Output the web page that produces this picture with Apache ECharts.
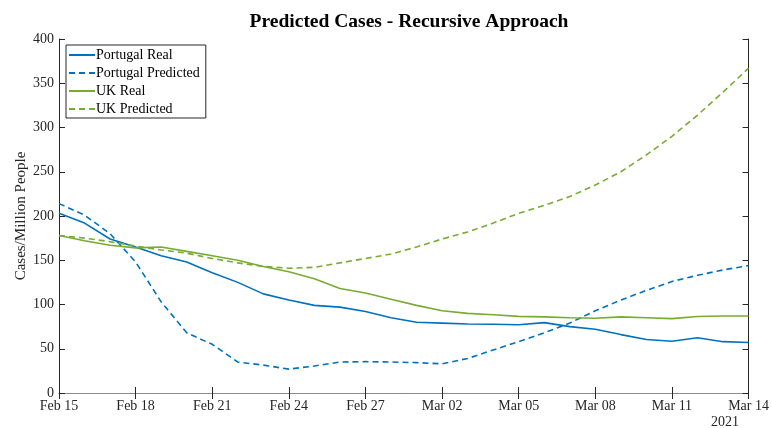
<!DOCTYPE html>
<html>
<head>
<meta charset="utf-8">
<script src="https://cdn.jsdelivr.net/npm/echarts@6/dist/echarts.min.js"></script>
<style>
  html, body { margin: 0; padding: 0; background: #fff; }
  #chart { width: 772px; height: 428px; }
</style>
</head>
<body>
<div id="chart"></div>
<script>
// daily dates, Feb 15 - Mar 14 2021
var days = ['Feb 15', 'Feb 16', 'Feb 17', 'Feb 18', 'Feb 19', 'Feb 20', 'Feb 21', 'Feb 22', 'Feb 23', 'Feb 24',
    'Feb 25', 'Feb 26', 'Feb 27', 'Feb 28', 'Mar 01', 'Mar 02', 'Mar 03', 'Mar 04', 'Mar 05', 'Mar 06',
    'Mar 07', 'Mar 08', 'Mar 09', 'Mar 10', 'Mar 11', 'Mar 12', 'Mar 13', 'Mar 14'];

var portugalReal = [203, 192, 174, 165, 155, 148, 136, 125, 112, 105, 99, 97, 92, 85, 80, 79, 78, 77.6, 77.2, 79.5,
    75, 72, 66, 60.5, 58.5, 62.5, 58, 57];
var portugalPred = [214, 201, 180, 148, 103, 68, 55, 35, 31.5, 27, 30.5, 35, 35.4, 35, 34.3, 33, 39, 48.6, 58, 68,
    79, 93, 105, 116, 126, 133, 139, 144];
var ukReal = [178, 172, 167, 164, 165, 160, 155, 150, 143, 137, 129, 118, 113, 106, 99, 93, 90, 88.5, 86.6, 86,
    85, 84.5, 86, 85, 84, 86.5, 87, 87];
var ukPred = [178, 175, 171, 166, 161.6, 158, 152, 147, 143, 141, 142, 147, 152, 157, 165, 174, 182, 192, 203, 212,
    222, 235, 250, 269, 290, 314, 340, 367];

var blue = '#0072BD';
var green = '#77AC30';
var font = 'Liberation Serif';

var chart = echarts.init(document.getElementById('chart'));

function lineSeries(name, data, color, dashed) {
    return {
        name: name,
        type: 'line',
        data: data,
        showSymbol: false,
        symbol: 'none',
        lineStyle: { color: color, width: 1.6, type: dashed ? [6, 4] : 'solid' },
        itemStyle: { color: color },
        emphasis: { disabled: true }
    };
}

var option = {
    animation: false,
    title: {
        text: 'Predicted Cases - Recursive Approach',
        left: 404,
        top: 7,
        textAlign: 'center',
        textStyle: { fontFamily: font, fontWeight: 'bold', fontSize: 19.5, color: '#000' }
    },
    legend: {
        left: 66,
        top: 45,
        orient: 'vertical',
        itemWidth: 26,
        itemHeight: 10,
        itemGap: 4,
        padding: [3, 6, 2, 2],
        borderColor: '#262626',
        borderWidth: 1,
        backgroundColor: '#fff',
        itemStyle: { opacity: 0 },
        textStyle: { fontFamily: font, fontSize: 14, color: '#000', padding: [0, 0, 0, -4] },
        data: ['Portugal Real', 'Portugal Predicted', 'UK Real', 'UK Predicted']
    },
    grid: { left: 59, right: 23, top: 39, bottom: 35 },
    xAxis: [{
        type: 'category',
        data: days,
        boundaryGap: false,
        axisLine: { lineStyle: { color: '#8a8a8a', width: 1 } },
        axisTick: { inside: true, length: 6, interval: 2, lineStyle: { color: '#262626' } },
        axisLabel: { interval: 2, fontFamily: font, fontSize: 14, color: '#262626', margin: 6 },
        splitLine: { show: false }
    }, {
        type: 'category',
        data: days,
        position: 'top',
        boundaryGap: false,
        axisLine: { lineStyle: { color: '#8a8a8a', width: 1 } },
        axisTick: { inside: true, length: 6, interval: 2, lineStyle: { color: '#262626' } },
        axisLabel: { show: false },
        splitLine: { show: false }
    }],
    yAxis: [{
        type: 'value',
        min: 0,
        max: 400,
        interval: 50,
        name: 'Cases/Million People',
        nameLocation: 'middle',
        nameGap: 30,
        nameMoveOverlap: false,
        nameTextStyle: { fontFamily: font, fontSize: 15, color: '#262626' },
        axisLine: { show: true, lineStyle: { color: '#262626' } },
        axisTick: { show: true, inside: true, length: 6, lineStyle: { color: '#262626' } },
        axisLabel: { fontFamily: font, fontSize: 14, color: '#262626', margin: 5 },
        splitLine: { show: false }
    }, {
        type: 'value',
        min: 0,
        max: 400,
        interval: 50,
        position: 'right',
        axisLine: { show: true, lineStyle: { color: '#262626' } },
        axisTick: { show: true, inside: true, length: 6, lineStyle: { color: '#262626' } },
        axisLabel: { show: false },
        splitLine: { show: false }
    }],
    series: [
        lineSeries('Portugal Real', portugalReal, blue, false),
        lineSeries('Portugal Predicted', portugalPred, blue, true),
        lineSeries('UK Real', ukReal, green, false),
        lineSeries('UK Predicted', ukPred, green, true)
    ],
    graphic: [{
        type: 'text',
        left: 711,
        top: 415,
        style: { text: '2021', font: '14px "Liberation Serif"', fill: '#262626' }
    }]
};

chart.setOption(option);
</script>
</body>
</html>
